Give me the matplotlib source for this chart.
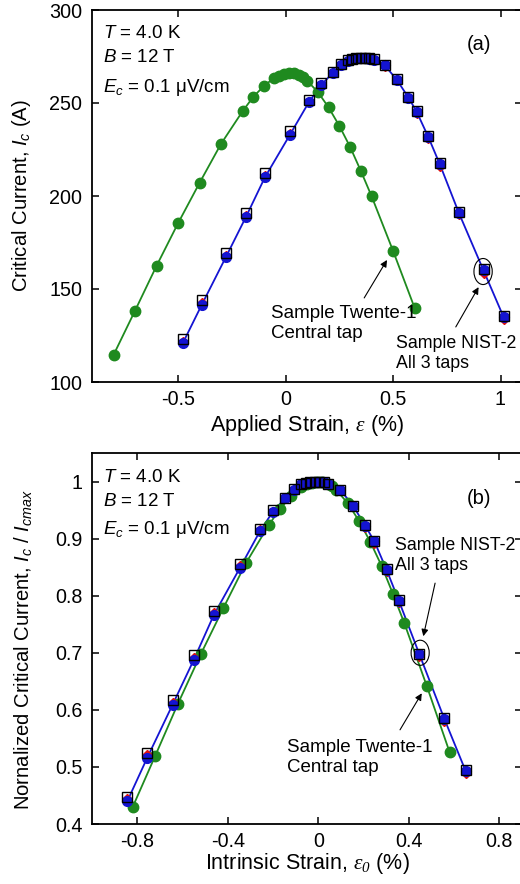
import matplotlib
matplotlib.use("Agg")
import matplotlib.pyplot as plt
from matplotlib.patches import Ellipse

plt.rcParams['font.family'] = ['Liberation Sans', 'DejaVu Sans']
plt.rcParams['mathtext.fontset'] = 'custom'
plt.rcParams['mathtext.rm'] = 'Liberation Sans'
plt.rcParams['mathtext.it'] = 'Liberation Sans:italic'
plt.rcParams['mathtext.cal'] = 'Liberation Serif:italic'

# ---------------- Panel (a): applied strain ----------------
twente_strain = [-0.8, -0.7, -0.6, -0.5, -0.4, -0.3, -0.2, -0.15, -0.1, -0.055, -0.03, -0.008,
                 0.015, 0.038, 0.062, 0.082, 0.1, 0.15, 0.2, 0.25, 0.3, 0.35, 0.4, 0.5, 0.6]
twente_ic = [114.5, 138.3, 162.4, 185.3, 207.0, 228.0, 245.5, 253.3, 259.2, 263.3, 264.7, 265.6,
             266.0, 266.0, 265.0, 263.8, 262.0, 256.0, 247.7, 237.8, 226.5, 213.6, 200.0, 170.6, 140.0]

nist_strain = [-0.478, -0.39, -0.278, -0.185, -0.096, 0.02, 0.108, 0.165, 0.22, 0.26, 0.29, 0.31,
               0.33, 0.35, 0.37, 0.39, 0.41, 0.462, 0.517, 0.572, 0.61, 0.664, 0.718, 0.806, 0.921, 1.014]
nist_ic_sq = [123.0, 144.1, 169.5, 191.0, 212.2, 235.0, 251.6, 260.6, 266.8, 270.8, 273.1, 273.8,
              274.2, 274.4, 274.3, 274.0, 273.4, 270.4, 262.9, 253.2, 245.7, 232.3, 217.6, 191.6, 160.6, 135.6]
nist_ic_ci = [120.8, 141.4, 167.0, 188.5, 210.0, 232.8, 250.3, 259.6, 266.2, 270.4, 272.8, 273.6,
              274.0, 274.2, 274.1, 273.8, 273.2, 270.2, 262.6, 252.9, 245.3, 231.8, 217.0, 191.0, 160.0, 135.0]
nist_ic_rd = [122.0, 143.0, 168.3, 190.0, 211.2, 234.0, 251.0, 260.0, 266.3, 270.3, 272.8, 273.5,
              273.9, 274.1, 274.0, 273.6, 273.0, 269.5, 261.8, 252.0, 244.2, 230.6, 215.8, 189.7, 158.3, 133.5]

# ---------------- Panel (b): intrinsic strain ----------------
twente_intr = [-0.82, -0.72, -0.62, -0.52, -0.42, -0.32, -0.22, -0.17, -0.12, -0.075, -0.05, -0.028,
               -0.005, 0.018, 0.042, 0.062, 0.08, 0.13, 0.18, 0.23, 0.28, 0.33, 0.38, 0.48, 0.58]
twente_norm = [0.430, 0.520, 0.611, 0.697, 0.778, 0.857, 0.923, 0.952, 0.974, 0.990, 0.995, 0.998,
               1.000, 1.000, 0.996, 0.992, 0.985, 0.962, 0.931, 0.894, 0.852, 0.803, 0.752, 0.641, 0.526]

nist_intr = [-0.844, -0.756, -0.644, -0.551, -0.462, -0.346, -0.258, -0.201, -0.146, -0.106, -0.076, -0.056,
             -0.036, -0.016, 0.004, 0.024, 0.044, 0.098, 0.153, 0.208, 0.248, 0.302, 0.356, 0.447, 0.557, 0.652]
nist_norm_sq = [0.448, 0.525, 0.618, 0.696, 0.773, 0.856, 0.917, 0.950, 0.972, 0.987, 0.995, 0.998,
                0.999, 1.000, 1.000, 0.999, 0.996, 0.985, 0.958, 0.923, 0.895, 0.847, 0.793, 0.698, 0.585, 0.494]
nist_norm_ci = [0.440, 0.516, 0.609, 0.687, 0.766, 0.849, 0.913, 0.947, 0.971, 0.986, 0.995, 0.998,
                0.999, 1.000, 1.000, 0.999, 0.996, 0.985, 0.958, 0.922, 0.895, 0.845, 0.791, 0.697, 0.584, 0.492]
nist_norm_rd = [0.445, 0.522, 0.614, 0.693, 0.771, 0.854, 0.916, 0.949, 0.972, 0.986, 0.995, 0.998,
                0.999, 1.000, 1.000, 0.998, 0.996, 0.983, 0.955, 0.919, 0.891, 0.841, 0.787, 0.692, 0.578, 0.487]

xticks_a = [-0.5, 0, 0.5, 1]
xtick_labels_a = ['-0.5', '0', '0.5', '1']
yticks_a = [100, 150, 200, 250, 300]
xticks_b = [-0.8, -0.4, 0, 0.4, 0.8]
xtick_labels_b = ['-0.8', '-0.4', '0', '0.4', '0.8']
yticks_b = [0.4, 0.5, 0.6, 0.7, 0.8, 0.9, 1.0]
ytick_labels_b = ['0.4', '0.5', '0.6', '0.7', '0.8', '0.9', '1']

BLUE = '#1414d2'
GREEN = '#1f8a1f'
RED = '#e01010'
FS = 13.5       # in-plot texts
TFS = 14.2      # tick labels
XLFS = 15.5     # x labels
YLFS = 14.6     # y labels

W, H = 520, 884
fig = plt.figure(figsize=(W / 100, H / 100), dpi=100)
ax1 = fig.add_axes([92 / W, 1 - 382 / H, 430 / W, 372 / H])
ax2 = fig.add_axes([92 / W, 1 - 824 / H, 430 / W, 371 / H])


def draw(ax, tx, ty, nx, n_sq, n_ci, n_rd):
    ax.plot(tx, ty, '-', color=GREEN, lw=1.3, zorder=2)
    ax.plot(nx, n_ci, '-', color=BLUE, lw=1.3, zorder=2)
    ax.plot(tx, ty, 'o', color=GREEN, ms=7.5, mec=GREEN, zorder=3)
    ax.plot(nx, n_rd, 'D', color=RED, ms=4.5, mec=RED, zorder=4)
    ax.plot(nx, n_ci, 'o', color=BLUE, ms=7, mec=BLUE, zorder=5)
    ax.plot(nx, n_sq, 's', mfc='none', mec='black', mew=1.0, ms=7, zorder=6)


def style(ax):
    for s in ax.spines.values():
        s.set_linewidth(1.3)
    ax.tick_params(direction='in', length=5, width=1.1, top=True, right=True,
                   labelsize=TFS, pad=7)
    ax.tick_params(axis='x', pad=6)


draw(ax1, twente_strain, twente_ic, nist_strain, nist_ic_sq, nist_ic_ci, nist_ic_rd)
draw(ax2, twente_intr, twente_norm, nist_intr, nist_norm_sq, nist_norm_ci, nist_norm_rd)

ax1.set_xlim(-0.9, 1.1)
ax1.set_ylim(100, 300)
ax1.set_xticks(xticks_a)
ax1.set_xticklabels(xtick_labels_a)
ax1.set_yticks(yticks_a)
style(ax1)
ax1.set_xlabel(r'Applied Strain, $\mathcal{\varepsilon}$ (%)', fontsize=XLFS)
ax1.set_ylabel(r'Critical Current, $I_c$ (A)', fontsize=YLFS, va='center')
ax1.yaxis.set_label_coords(-0.163, 0.5)
ax1.xaxis.set_label_coords(0.5, -0.082)

ax2.set_xlim(-1.0, 0.9)
ax2.set_ylim(0.4, 1.05)
ax2.set_xticks(xticks_b)
ax2.set_xticklabels(xtick_labels_b)
ax2.set_yticks(yticks_b)
ax2.set_yticklabels(ytick_labels_b)
style(ax2)
ax2.set_xlabel(r'Intrinsic Strain, $\mathcal{\varepsilon_0}$ (%)', fontsize=XLFS)
ax2.set_ylabel(r'Nornalized Critical Current, $I_c$ / $I_{cmax}$', fontsize=YLFS, va='center')
ax2.yaxis.set_label_coords(-0.158, 0.47)
ax2.xaxis.set_label_coords(0.5, -0.073)


def ftext(x, y, s, fs=FS, **kw):
    fig.text(x / W, 1 - y / H, s, fontsize=fs, ha='left', va='center', **kw)


# panel (a) texts
ftext(103, 33, r'$T$ = 4.0 K')
ftext(103, 57, r'$B$ = 12 T')
ftext(103, 88, r'$E_c$ = 0.1 μV/cm')
ftext(467, 45, '(a)', fs=14.5)
ftext(271, 313, 'Sample Twente-1')
ftext(271, 333, 'Central tap')
ftext(396, 343, 'Sample NIST-2', fs=12.8)
ftext(396, 363, 'All 3 taps', fs=12.8)

# panel (b) texts
ftext(103, 478, r'$T$ = 4.0 K')
ftext(103, 501, r'$B$ = 12 T')
ftext(103, 530, r'$E_c$ = 0.1 μV/cm')
ftext(467, 498, '(b)', fs=14.5)
ftext(395, 545, 'Sample NIST-2', fs=12.8)
ftext(395, 565, 'All 3 taps', fs=12.8)
ftext(287, 748, 'Sample Twente-1')
ftext(287, 768, 'Central tap')

arrow = dict(arrowstyle='-|>', color='black', lw=0.8, mutation_scale=10, shrinkA=0, shrinkB=0)
ax1.annotate('', xy=(0.472, 165.6), xytext=(0.366, 145.2), arrowprops=arrow)
ax1.annotate('', xy=(0.898, 151.0), xytext=(0.792, 129.6), arrowprops=arrow)
ax1.add_patch(Ellipse((0.919, 159.4), 0.085, 14.0, fill=False, ec='black', lw=0.8, zorder=7))

ax2.annotate('', xy=(0.464, 0.729), xytext=(0.516, 0.822), arrowprops=arrow)
ax2.annotate('', xy=(0.457, 0.629), xytext=(0.361, 0.565), arrowprops=arrow)
ax2.add_patch(Ellipse((0.45, 0.70), 0.08, 0.044, fill=False, ec='black', lw=0.8, zorder=7))

fig.savefig('out.png', dpi=100)
